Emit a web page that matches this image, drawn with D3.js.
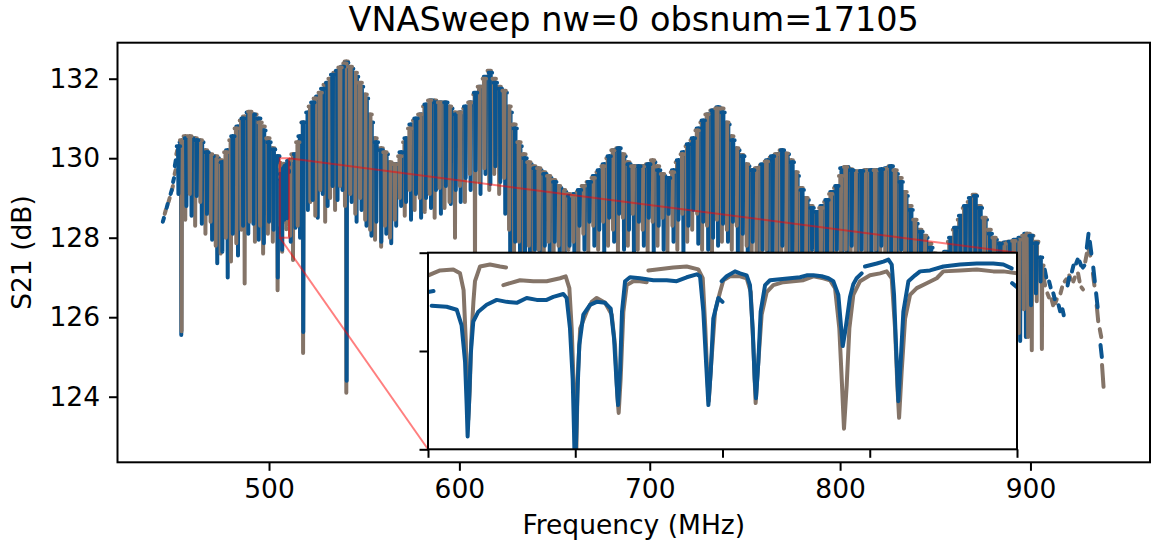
<!DOCTYPE html>
<html>
<head>
<meta charset="utf-8">
<script src="https://cdn.jsdelivr.net/npm/d3@7"></script>
<style>
  body { margin: 0; background: #fff; }
  svg { display: block; }
  text { font-family: "DejaVu Sans", sans-serif; fill: #000; }
</style>
</head>
<body>
<svg id="chart" width="1152" height="548"></svg>
<script>
// ---- axis ticks and ranges ----
const xTicks = [500, 600, 700, 800, 900];
const yTicks = [124, 126, 128, 130, 132];
const xDomain = [420.4, 962.8];
const yDomain = [122.35, 132.906];
const insetXDomain = [505.7, 510.5];
const insetYDomain = [128, 130];
const insetXTicks = [505.7, 506.9, 508.1, 509.3, 510.5];
const insetYTicks = [128, 129, 130];

// ---- per-tone sweeps: centre frequency (MHz), off-resonance level and dip minimum (dB) ----
const sweepHalfWidth = 0.9;
const dipHalfWidth = 0.2;

const blueFreq = [452.4,453.9,456.6,459.3,462.0,464.7,467.4,470.1,472.8,475.5,478.3,481.0,483.7,486.4,489.1,491.8,494.6,497.3,500.0,502.4,504.6,
  511.4,513.9,516.3,518.0,520.4,523.0,525.6,528.2,530.8,533.4,536.0,538.6,540.8,543.4,546.0,548.6,551.2,553.8,556.4,559.0,561.6,564.2,566.8,569.4,572.0,574.6,577.2,579.9,582.5,
  585.1,587.7,590.3,592.9,595.5,598.1,600.7,603.3,605.9,608.5,611.1,613.7,616.3,618.9,621.5,624.1,626.7,629.3,631.9,634.5,637.1,639.7,642.3,644.9,647.5,650.1,652.7,655.3,657.9,
  660.5,663.1,665.7,668.3,670.9,673.5,676.1,678.7,681.3,683.9,686.5,689.1,691.7,694.3,696.9,699.5,702.1,704.7,707.3,709.9,712.5,715.1,717.7,720.3,722.9,725.5,728.1,730.7,733.3,735.9,
  738.5,741.1,743.7,746.3,748.9,751.5,754.1,756.7,759.3,761.9,764.5,767.1,769.7,772.3,774.9,777.5,780.1,782.7,785.3,787.9,790.5,793.1,795.7,798.3,800.9,803.5,806.1,808.7,811.3,
  813.9,816.5,819.1,821.7,824.3,826.9,829.5,832.1,834.7,837.3,839.9,842.5,845.1,847.7,850.3,852.9,855.5,858.1,860.7,863.3,865.9,868.5,871.1,873.7,876.3,878.9,881.5,884.1,886.7,
  889.3,891.9,894.6,897.6,900.3,902.9,905.3];
const blueTop = [130.30,130.40,130.50,130.50,130.45,130.40,130.15,130.05,130.00,129.90,130.20,130.55,130.80,131.00,131.15,131.10,131.00,130.70,130.40,130.22,130.05,
  129.95,130.10,130.55,130.90,131.15,131.40,131.55,131.75,131.90,132.10,132.20,132.30,132.40,132.25,132.05,131.80,131.50,130.90,130.40,130.20,130.10,129.85,129.85,130.15,130.50,130.85,131.00,131.10,131.35,
  131.45,131.40,131.40,131.40,131.25,131.10,131.15,131.30,131.40,131.65,131.80,132.05,132.15,131.90,131.75,131.65,131.15,130.75,130.30,130.00,129.85,129.75,129.70,129.60,129.50,129.40,129.25,129.15,129.05,
  129.10,129.20,129.30,129.40,129.55,129.70,129.85,130.05,130.20,130.25,130.05,129.85,129.80,129.80,129.80,129.85,129.90,129.70,129.55,129.50,129.70,129.95,130.15,130.35,130.50,130.75,130.95,131.10,131.20,131.28,
  131.15,130.85,130.45,130.20,130.05,129.80,129.70,129.75,129.85,129.95,130.05,130.10,130.20,130.10,129.90,129.55,129.20,128.95,128.75,128.65,128.80,128.95,129.15,129.30,129.75,129.78,129.70,129.66,129.68,
  129.70,129.70,129.70,129.72,129.75,129.80,129.60,129.40,129.05,128.70,128.35,128.15,128.00,127.75,127.55,127.50,127.65,128.00,128.25,128.55,128.80,129.00,129.05,128.75,128.45,128.10,127.95,127.85,127.88,
  127.90,127.95,128.00,128.10,128.05,127.86,127.50];
const blueLow = [129.10,125.55,128.80,128.55,129.05,128.35,128.60,127.95,127.36,127.65,127.00,128.10,127.55,128.30,128.10,128.35,127.95,127.86,128.40,128.20,127.00,
  127.90,128.25,128.00,125.63,128.70,128.95,128.50,129.10,128.80,129.30,128.95,129.20,124.40,128.90,128.40,128.70,128.30,128.05,128.40,127.90,128.10,127.86,128.30,128.80,128.90,128.45,129.10,128.50,129.00,
  128.75,129.20,128.60,129.30,128.85,129.20,128.90,129.50,129.20,129.70,129.10,129.60,129.35,129.80,129.40,128.60,127.50,127.90,127.20,127.60,126.90,127.70,127.30,127.80,127.40,127.90,127.60,127.20,127.80,
  126.50,128.30,127.70,128.40,127.80,128.20,127.60,128.50,127.90,128.60,127.70,128.20,127.50,128.40,127.80,128.50,127.60,128.30,127.70,128.60,127.90,128.45,127.60,128.30,128.70,127.85,128.40,127.70,128.00,127.80,
  128.35,127.90,128.40,127.60,128.10,127.40,127.90,127.30,127.70,127.20,127.60,127.10,127.80,127.30,127.50,127.00,127.60,127.20,127.70,127.40,127.00,127.60,127.20,127.70,127.10,127.50,127.80,127.30,127.70,
  127.20,127.60,127.40,127.80,127.20,127.60,127.30,127.70,127.40,127.50,127.30,127.60,127.20,127.00,126.90,126.80,127.00,127.20,127.40,127.10,127.50,127.20,127.60,127.30,127.00,127.40,126.90,127.30,126.80,
  127.20,126.85,125.40,125.50,126.30,126.60,126.90];

const brownFreq = [454.1,456.0,458.4,461.2,463.9,466.6,469.3,472.0,474.6,477.3,480.0,482.8,485.5,487.2,489.9,492.6,495.3,496.9,499.4,502.0,504.5,
  511.1,512.6,515.1,517.9,521.7,524.3,526.9,529.5,532.1,534.7,537.3,539.9,540.6,542.7,545.3,547.9,550.5,553.1,555.7,558.9,560.9,563.5,566.1,568.7,571.3,573.9,576.5,579.2,581.8,
  584.4,587.0,589.6,592.2,594.8,597.7,600.3,602.9,605.5,608.2,610.5,613.1,615.7,618.3,620.9,623.5,626.1,628.7,631.3,633.9,636.5,639.1,641.7,644.3,646.9,649.5,652.1,654.7,657.3,
  659.9,662.5,665.1,667.7,670.3,672.9,675.5,678.1,680.7,683.3,685.9,688.5,691.1,693.7,696.3,698.9,701.5,704.1,706.7,709.3,711.9,714.5,717.1,719.7,722.3,724.9,727.5,730.1,732.7,735.3,
  737.9,740.5,743.1,745.7,748.3,750.9,753.5,756.1,758.7,761.3,763.9,766.5,769.1,771.7,774.3,776.9,779.5,782.1,784.7,787.3,789.9,792.5,795.1,797.7,800.3,802.9,805.5,808.1,810.7,
  813.3,815.9,818.5,821.1,823.7,826.3,828.9,831.5,834.1,836.7,839.3,841.9,844.5,847.1,849.7,852.3,854.9,857.5,860.1,862.7,865.3,867.9,870.5,873.1,875.7,878.3,880.9,883.5,886.1,
  888.7,891.3,893.9,896.5,898.8,900.7,903.3,906.0];
const brownTop = [130.45,130.55,130.55,130.50,130.45,130.20,130.10,130.05,129.95,130.15,130.45,130.75,130.95,131.05,131.17,131.10,130.90,130.80,130.50,130.25,130.05,
  129.95,130.10,130.40,130.90,131.30,131.50,131.65,131.85,132.00,132.15,132.28,132.38,132.43,132.30,132.15,131.90,131.60,131.10,130.50,130.25,130.15,129.90,129.85,130.05,130.40,130.75,130.95,131.10,131.30,
  131.45,131.45,131.40,131.40,131.30,131.15,131.15,131.25,131.40,131.60,131.80,132.00,132.20,132.00,131.80,131.70,131.30,130.85,130.40,130.10,129.90,129.80,129.75,129.65,129.55,129.45,129.30,129.20,129.10,
  129.05,129.15,129.30,129.40,129.50,129.65,129.80,130.00,130.20,130.25,130.10,129.90,129.80,129.80,129.80,129.85,129.95,129.80,129.60,129.50,129.65,129.90,130.10,130.30,130.45,130.70,130.90,131.10,131.20,131.25,
  131.25,130.90,130.55,130.25,130.08,129.85,129.70,129.75,129.82,129.92,130.02,130.10,130.20,130.12,129.95,129.65,129.25,129.00,128.80,128.65,128.75,128.90,129.10,129.25,129.55,129.78,129.72,129.67,129.67,
  129.70,129.70,129.70,129.70,129.73,129.80,129.70,129.50,129.15,128.80,128.45,128.20,128.05,127.85,127.60,127.50,127.60,127.90,128.20,128.45,128.75,128.90,129.08,128.80,128.50,128.20,128.00,127.86,127.85,
  127.90,127.92,127.95,128.05,128.10,128.05,127.90,127.30];
const brownLow = [125.65,128.45,129.10,128.30,128.90,128.10,128.40,127.80,127.60,128.00,127.40,127.86,128.20,126.85,128.40,127.90,128.30,127.60,128.10,127.90,126.68,
  128.05,127.44,128.30,125.10,128.90,128.55,129.20,128.40,129.00,128.70,129.30,128.80,124.10,129.10,128.60,129.00,128.45,128.20,127.95,127.77,128.30,128.00,128.45,129.00,128.55,129.20,128.70,129.00,128.65,
  129.10,128.50,129.25,128.75,128.90,128.00,129.30,128.90,129.60,127.00,129.40,129.75,129.20,129.60,129.10,129.50,128.20,127.60,127.90,127.30,127.80,127.10,127.70,127.30,127.90,127.50,127.80,127.40,127.70,
  127.90,127.40,128.10,127.60,128.30,127.70,128.40,127.80,128.20,127.60,128.50,127.80,128.60,127.70,128.20,127.50,128.40,127.80,128.50,127.60,128.30,127.70,128.60,127.90,128.20,128.60,127.70,128.30,127.60,128.45,
  127.90,128.20,127.70,128.30,127.50,127.80,127.20,127.60,127.30,127.70,127.10,127.50,127.20,127.60,127.00,127.40,127.10,127.50,127.00,127.30,127.60,127.20,127.50,127.00,127.40,127.70,127.20,127.60,127.10,
  127.50,127.30,127.70,127.10,127.50,127.20,127.60,127.10,127.50,127.20,127.60,127.00,127.40,126.90,127.00,126.70,127.10,126.90,127.30,127.00,127.40,127.10,127.50,127.20,127.60,127.10,127.40,126.80,127.20,
  126.90,127.30,125.60,126.20,125.50,125.17,126.40,125.20];

// ---- short sweeps below and above the resonator band: [start, end] as [MHz, dB] ----
const leadBlue = [[[444.2,128.40],[444.8,128.50]],[[446.2,128.75],[446.8,128.85]],[[448.3,129.10],[448.9,129.20]],[[449.6,129.40],[450.1,129.50]],[[450.5,129.80],[451.0,129.95]]];
const leadBrown = [[[445.2,128.60],[445.8,128.70]],[[447.2,128.90],[447.8,129.00]],[[449.0,129.20],[449.5,129.30]],[[450.4,129.60],[450.9,129.70]],[[451.3,130.10],[451.8,130.20]]];
const tailBlue = [[[907.5,127.20],[908.3,127.00]],[[909.8,126.90],[910.6,126.75]],[[912.0,126.60],[912.8,126.45]],[[914.8,126.30],[915.6,126.15]],[[916.8,126.20],[917.5,126.05]],
  [[919.5,126.80],[920.3,127.00]],[[921.8,127.15],[922.6,127.30]],[[924.0,127.35],[924.8,127.45]],[[925.8,127.40],[926.6,127.30]],[[927.5,127.25],[928.3,127.30]],
  [[929.6,127.75],[930.5,128.10]],[[931.2,127.90],[932.0,127.60]],[[933.0,127.25],[933.8,126.90]],[[934.5,126.60],[935.3,126.25]],[[936.8,125.30],[937.5,125.00]]];
const tailBrown = [[[906.9,127.00],[907.7,126.80]],[[908.9,126.60],[909.7,126.50]],[[911.1,126.45],[911.9,126.30]],[[913.0,126.35],[913.8,126.45]],[[915.8,126.60],[916.6,126.75]],
  [[918.0,126.90],[918.8,126.95]],[[920.4,127.05],[921.2,126.95]],[[922.5,126.90],[923.3,127.00]],[[925.0,127.10],[925.8,126.90]],[[926.8,126.75],[927.6,126.70]],
  [[928.8,127.40],[929.6,127.60]],[[930.6,127.70],[931.4,127.55]],[[932.8,127.10],[933.6,126.80]],[[934.8,126.30],[935.6,125.90]],[[936.4,125.70],[937.2,125.50]],[[937.6,124.80],[938.4,124.25]]];

// ---- full-resolution sweeps between 505.7 and 510.5 MHz: [MHz, dB] ----
const fineBlue = [
  [[505.700,129.60],[505.745,129.61]],
  [[505.730,129.46],[505.852,129.45],[505.934,129.42],[505.974,129.26],[506.002,128.89],[506.015,128.45],[506.023,128.13],[506.034,128.45],[506.048,128.96],[506.069,129.30],
   [506.110,129.40],[506.178,129.47],[506.260,129.52],[506.341,129.50],[506.423,129.49],[506.504,129.54],[506.586,129.52],[506.667,129.52],[506.721,129.55],[506.803,129.58],
   [506.830,129.54],[506.857,129.23],[506.879,128.72],[506.890,128.18],[506.898,127.70],[506.917,128.55],[506.933,129.06],[506.966,129.37],[507.020,129.47],[507.075,129.50],
   [507.143,129.49],[507.189,129.43],[507.216,129.13],[507.238,128.65],[507.249,128.45],[507.265,128.79],[507.281,129.40],[507.306,129.71],[507.346,129.75],[507.428,129.74],
   [507.537,129.72],[507.645,129.72],[507.727,129.71],[507.808,129.75],[507.890,129.78],[507.917,129.76],[507.944,129.40],[507.966,128.89],[507.985,128.45],[508.004,128.79],
   [508.025,129.33],[508.066,129.54],[508.100,129.50]],
  [[508.093,129.71],[508.134,129.76],[508.202,129.81],[508.243,129.79],[508.297,129.77],[508.324,129.67],[508.346,129.23],[508.362,128.72],[508.373,128.52],[508.392,128.89],
   [508.411,129.40],[508.447,129.67],[508.487,129.72],[508.569,129.73],[508.650,129.74],[508.732,129.75],[508.786,129.77],[508.840,129.77],[508.908,129.76],[508.963,129.74],
   [509.003,129.71],[509.044,129.57],[509.066,129.25],[509.080,129.05],[509.100,129.20],[509.139,129.55],[509.166,129.68],[509.193,129.74],[509.234,129.79]],
  [[509.261,129.86],[509.357,129.89],[509.411,129.91],[509.452,129.93],[509.479,129.88],[509.498,129.57],[509.514,129.06],[509.533,128.49],[509.552,128.89],[509.574,129.40],
   [509.615,129.71],[509.669,129.77],[509.710,129.81],[509.791,129.82],[509.900,129.86],[510.036,129.88],[510.172,129.89],[510.307,129.89],[510.389,129.88],[510.457,129.84]],
  [[510.460,129.69],[510.500,129.65]]
];
const fineBrown = [
  [[505.703,129.77],[505.798,129.82],[505.906,129.83],[505.961,129.79],[505.990,129.62],[506.008,129.10],[506.020,128.50],[506.028,128.30],[506.040,128.60],[506.052,129.10],
   [506.070,129.50],[506.083,129.71],[506.124,129.86],[506.205,129.88],[506.287,129.86],[506.336,129.85]],
  [[506.314,129.67],[506.450,129.72],[506.558,129.71],[506.667,129.71],[506.776,129.74],[506.822,129.76],[506.852,129.64],[506.871,129.23],[506.890,128.55],[506.904,127.65],
   [506.920,128.72],[506.940,129.23],[506.993,129.40],[507.034,129.50],[507.075,129.54],[507.143,129.49],[507.197,129.37],[507.224,129.06],[507.243,128.55],[507.254,128.37],
   [507.270,128.72],[507.292,129.40],[507.319,129.67],[507.373,129.71],[507.428,129.71],[507.482,129.70]],
  [[507.496,129.82],[507.699,129.85],[507.808,129.86],[507.903,129.83],[507.939,129.74],[507.960,129.23],[507.977,128.72],[507.988,128.49],[508.009,128.89],[508.039,129.40],
   [508.080,129.60],[508.107,129.72],[508.161,129.76],[508.243,129.76],[508.297,129.74],[508.330,129.60],[508.351,129.06],[508.370,128.47],[508.392,128.89],[508.419,129.37],
   [508.460,129.60],[508.514,129.67],[508.596,129.70],[508.677,129.71],[508.759,129.72],[508.840,129.76],[508.922,129.74],[508.976,129.72],[509.017,129.64],[509.052,129.23],
   [509.074,128.65],[509.090,128.21],[509.112,128.65],[509.134,129.23],[509.166,129.57],[509.221,129.71],[509.302,129.77],[509.384,129.79],[509.438,129.81],[509.479,129.74],
   [509.506,129.23],[509.525,128.65],[509.539,128.32],[509.560,128.79],[509.588,129.33],[509.628,129.57],[509.683,129.64],[509.764,129.69],[509.846,129.74],[509.900,129.81],
   [510.036,129.82],[510.172,129.83],[510.307,129.81],[510.389,129.81],[510.500,129.79]]
];

const colors = { blue: "#0b5590", brown: "#847468", zoom: "red" };

// ---- layout ----
const svg = d3.select("#chart");
const plot = { left: 117.5, right: 1150, top: 42.7, bottom: 462.3 };
const inset = { left: 428, right: 1017, top: 252.7, bottom: 449.3 };

const x = d3.scaleLinear().domain(xDomain).range([plot.left, plot.right]);
const y = d3.scaleLinear().domain(yDomain).range([plot.bottom, plot.top]);
const xi = d3.scaleLinear().domain(insetXDomain).range([inset.left, inset.right]);
const yi = d3.scaleLinear().domain(insetYDomain).range([inset.bottom, inset.top]);

// one sweep per tone: flat level, narrow dip at the centre, flat level
function toneSweeps(freq, top, low, color) {
  return freq.map((f, i) => ({
    color, depth: low[i],
    seg: [[f - sweepHalfWidth, top[i]], [f - dipHalfWidth, top[i]], [f, low[i]],
          [f + dipHalfWidth, top[i]], [f + sweepHalfWidth, top[i]]]
  }));
}
const plain = (segs, color) => segs.map(seg => ({ seg, color }));

// deepest resonances go underneath, shallow ones on top
const toneLayer = toneSweeps(blueFreq, blueTop, blueLow, colors.blue)
  .concat(toneSweeps(brownFreq, brownTop, brownLow, colors.brown))
  .sort((a, b) => a.depth - b.depth);
const mainLayers = [].concat(
  plain(leadBrown, colors.brown), plain(leadBlue, colors.blue),
  plain(tailBrown, colors.brown), plain(tailBlue, colors.blue),
  toneLayer,
  plain(fineBrown, colors.brown), plain(fineBlue, colors.blue)
);

const defs = svg.append("defs");
defs.append("clipPath").attr("id", "clip-main").append("rect")
  .attr("x", plot.left).attr("y", plot.top)
  .attr("width", plot.right - plot.left).attr("height", plot.bottom - plot.top);
defs.append("clipPath").attr("id", "clip-inset").append("rect")
  .attr("x", inset.left).attr("y", inset.top)
  .attr("width", inset.right - inset.left).attr("height", inset.bottom - inset.top);

function drawLayers(g, items, sx, sy) {
  const line = d3.line().x(d => sx(d[0])).y(d => sy(d[1]));
  g.selectAll(null).data(items).join("path")
    .attr("d", d => line(d.seg))
    .attr("fill", "none")
    .attr("stroke", d => d.color)
    .attr("stroke-width", 4)
    .attr("stroke-linecap", "round")
    .attr("stroke-linejoin", "round");
}

// main sweep
drawLayers(svg.append("g").attr("clip-path", "url(#clip-main)"), mainLayers, x, y);

// main axes
const xAxis = d3.axisBottom(x).tickValues(xTicks).tickSize(8.5).tickPadding(8);
const yAxis = d3.axisLeft(y).tickValues(yTicks).tickSize(8.5).tickPadding(9);
const gx = svg.append("g").attr("transform", `translate(0,${plot.bottom})`).call(xAxis);
const gy = svg.append("g").attr("transform", `translate(${plot.left},0)`).call(yAxis);
[gx, gy].forEach(g => {
  g.select(".domain").remove();
  g.selectAll(".tick line").attr("stroke", "#000").attr("stroke-width", 2);
  g.selectAll(".tick text").attr("font-size", 26.5).attr("font-family", "DejaVu Sans");
});
gx.selectAll(".tick text").attr("dy", "0.71em");
svg.append("rect")
  .attr("x", plot.left).attr("y", plot.top)
  .attr("width", plot.right - plot.left).attr("height", plot.bottom - plot.top)
  .attr("fill", "none").attr("stroke", "#000").attr("stroke-width", 2);

// zoom marker and connectors
const zx0 = x(insetXDomain[0]), zx1 = x(insetXDomain[1]);
const zy0 = y(insetYDomain[1]), zy1 = y(insetYDomain[0]);
const zoomG = svg.append("g").attr("stroke", colors.zoom).attr("stroke-opacity", 0.5)
  .attr("stroke-width", 2).attr("fill", "none");
zoomG.append("rect").attr("x", zx0).attr("y", zy0).attr("width", zx1 - zx0).attr("height", zy1 - zy0);
zoomG.append("line").attr("x1", zx1).attr("y1", zy0).attr("x2", inset.right).attr("y2", inset.top);
zoomG.append("line").attr("x1", zx0).attr("y1", zy1).attr("x2", inset.left).attr("y2", inset.bottom);

// inset
const insetG = svg.append("g");
insetG.append("rect")
  .attr("x", inset.left).attr("y", inset.top)
  .attr("width", inset.right - inset.left).attr("height", inset.bottom - inset.top)
  .attr("fill", "#fff");
drawLayers(insetG.append("g").attr("clip-path", "url(#clip-inset)"),
  plain(fineBrown, colors.brown).concat(plain(fineBlue, colors.blue)), xi, yi);
const ix = insetG.append("g").attr("transform", `translate(0,${inset.bottom})`)
  .call(d3.axisBottom(xi).tickValues(insetXTicks).tickSize(8.5).tickFormat(""));
const iy = insetG.append("g").attr("transform", `translate(${inset.left},0)`)
  .call(d3.axisLeft(yi).tickValues(insetYTicks).tickSize(8.5).tickFormat(""));
[ix, iy].forEach(g => {
  g.select(".domain").remove();
  g.selectAll(".tick line").attr("stroke", "#000").attr("stroke-width", 2);
});
insetG.append("rect")
  .attr("x", inset.left).attr("y", inset.top)
  .attr("width", inset.right - inset.left).attr("height", inset.bottom - inset.top)
  .attr("fill", "none").attr("stroke", "#000").attr("stroke-width", 2);

// titles
svg.append("text").attr("x", (plot.left + plot.right) / 2).attr("y", 31)
  .attr("text-anchor", "middle").attr("font-size", 33.5).text("VNASweep nw=0 obsnum=17105");
svg.append("text").attr("x", (plot.left + plot.right) / 2).attr("y", 534)
  .attr("text-anchor", "middle").attr("font-size", 26.5).text("Frequency (MHz)");
svg.append("text").attr("transform", `translate(31,${(plot.top + plot.bottom) / 2}) rotate(-90)`)
  .attr("text-anchor", "middle").attr("font-size", 26.5).text("S21 (dB)");
</script>
</body>
</html>
